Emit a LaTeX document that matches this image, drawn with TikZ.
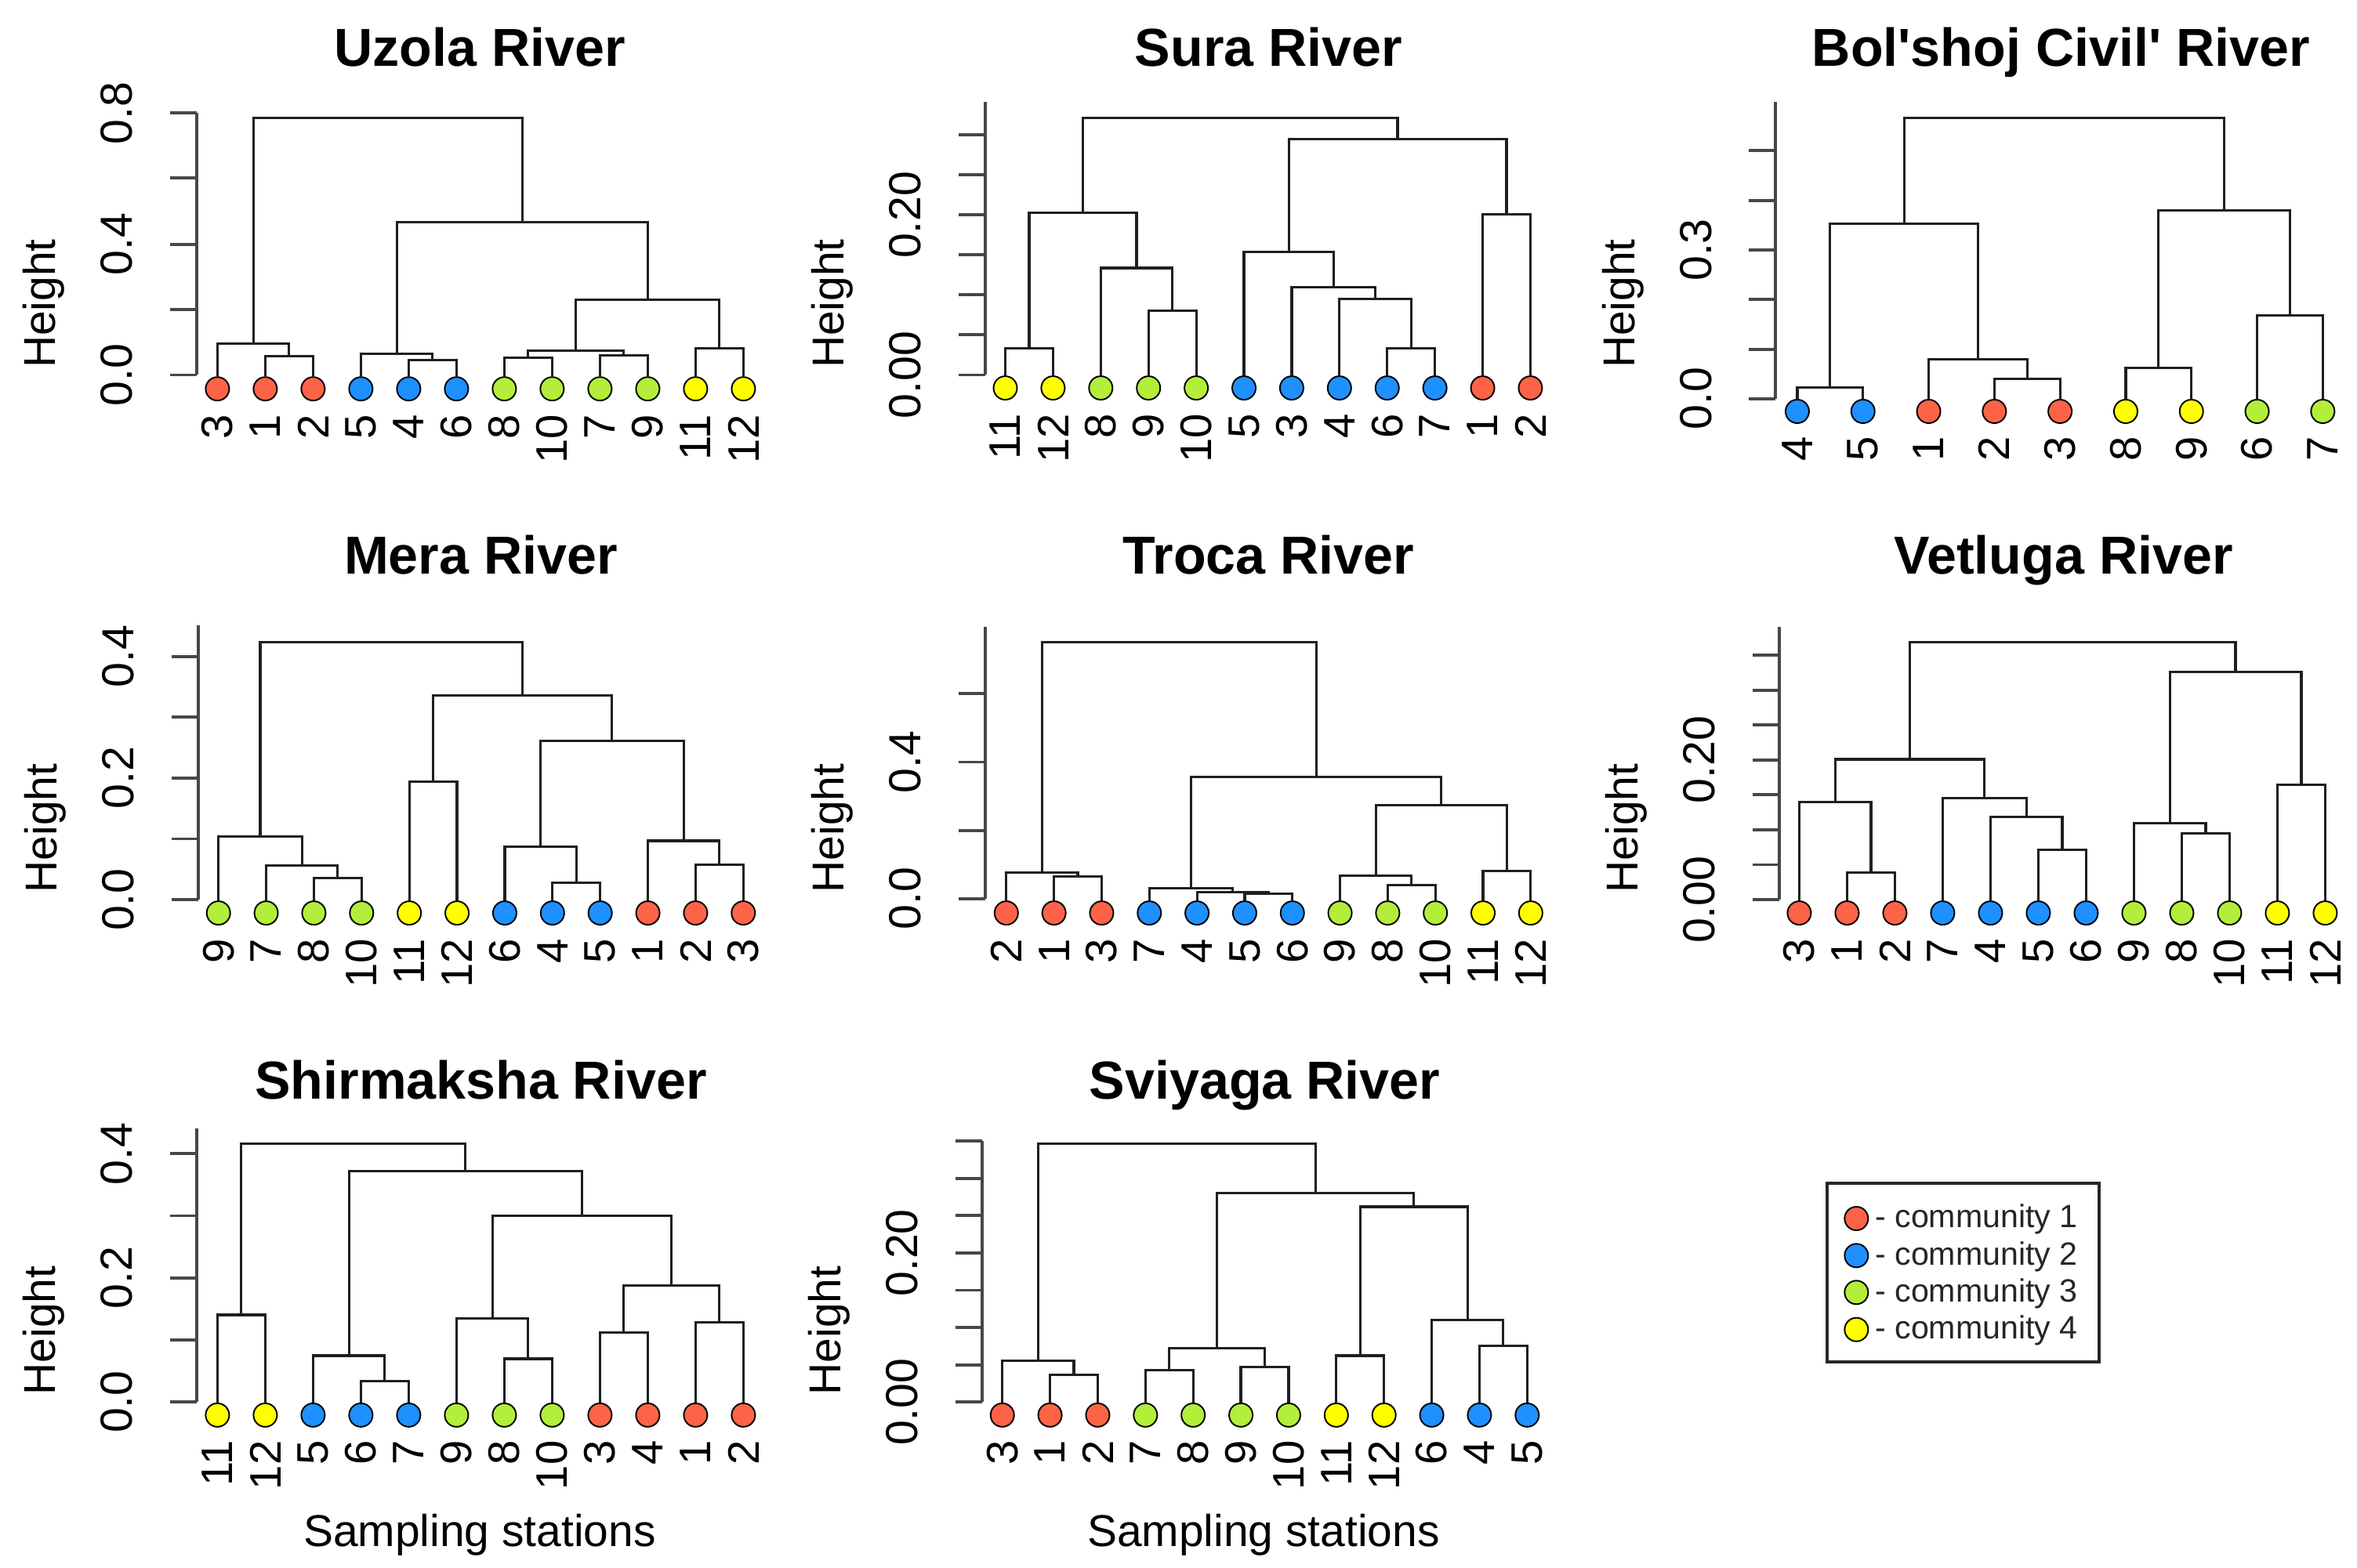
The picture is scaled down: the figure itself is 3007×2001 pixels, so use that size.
\documentclass[tikz,border=0pt]{standalone}
\usepackage{fontspec}
\setmainfont{Liberation Sans}
\newfontfamily\tfont{Liberation Sans}
\usetikzlibrary{calc}
\definecolor{cR}{HTML}{FF6347}
\definecolor{cB}{HTML}{1E90FF}
\definecolor{cG}{HTML}{B3EE3A}
\definecolor{cY}{HTML}{FFFF00}
\newcommand\mrg[4]{%
  \coordinate (tmpm) at ($(#2)!0.5!(#3)$);
  \coordinate (tmph) at (0,#4);
  \coordinate (#1) at (tmpm |- tmph);
  \draw[dline] (#2) |- (#1) -| (#3);}
\newcommand\leaves[5]{%
  \foreach \lb/\cl [count=\i from 0] in {#5} {
    \node[leaf, fill=\cl] (#1\lb) at ({#2+\i*#3}, #4) {};
    \node[lnum, rotate=90, anchor=east] (#1\lb-l) at ({#2+\i*#3}, #4+32) {\lb};
  }}
\newcommand\yaxis[4]{%
  \draw[axisl] (#1,#2) -- (#1,#3);
  \foreach \t in {#4} \draw[axisl] (#1,\t) -- (#1-34,\t);}
\begin{document}
\begin{tikzpicture}[x=0.01cm,y=-0.01cm,
  leaf/.style={circle, draw=black, line width=0.55pt, minimum size=0.3cm, inner sep=0pt},
  num/.style={font=\fontsize{16.3}{16.3}\selectfont, inner sep=0pt},
  lnum/.style={font=\fontsize{16}{16}\selectfont, inner sep=0pt},
  lab/.style={font=\fontsize{16.2}{16.2}\selectfont, inner sep=0pt},
  ttl/.style={font=\tfont\bfseries\fontsize{19.4}{19.4}\selectfont, inner sep=0pt, anchor=base},
  leg/.style={font=\fontsize{11.7}{11.7}\selectfont, inner sep=0pt, anchor=base west, text=black!85},
  dline/.style={line width=0.9pt, black!88},
  axisl/.style={line width=1.1pt, black!72}]
\fill[white] (0,0) rectangle (3007,2001);
\useasboundingbox (0,0) rectangle (3007,2001);

% ---------- Uzola ----------
\yaxis{250.6}{144.3}{478.5}{144.3,227.4,311.6,394.6,478.5}
\node[num,rotate=90] (Ut0) at (149,478.5) {0.0};
\node[num,rotate=90] (Ut4) at (149,311.6) {0.4};
\node[num,rotate=90] (Ut8) at (149,144.3) {0.8};
\node[lab,rotate=90] (Uh) at (55.6,387.5) {Height};
\node[ttl] (Utt) at (612,85) {Uzola River};
\leaves{U}{277.4}{61.0}{496.2}{3/cR,1/cR,2/cR,5/cB,4/cB,6/cB,8/cG,10/cG,7/cG,9/cG,11/cY,12/cY}
\mrg{Ua}{U1}{U2}{454.7}
\mrg{Ub}{U3}{Ua}{438.9}
\mrg{Uc}{U4}{U6}{459.5}
\mrg{Ud}{U5}{Uc}{451.6}
\mrg{Ue}{U8}{U10}{456.7}
\mrg{Uf}{U7}{U9}{453.5}
\mrg{Ug}{Ue}{Uf}{447.6}
\mrg{Uh2}{U11}{U12}{444.4}
\mrg{Ui}{Ug}{Uh2}{382.8}
\mrg{Uj}{Ud}{Ui}{283.5}
\mrg{Ur}{Ub}{Uj}{150.3}

% ---------- Sura ----------
\yaxis{1257}{130.5}{478.5}{478.5,427.4,376.3,325.3,274.2,223.1,172.0}
\node[num,rotate=90] (St0) at (1155,478.5) {0.00};
\node[num,rotate=90] (St2) at (1155,274.2) {0.20};
\node[lab,rotate=90] (Sh) at (1062,387.5) {Height};
\node[ttl] (Stt) at (1618.6,85) {Sura River};
\leaves{S}{1282.5}{60.9}{495.1}{11/cY,12/cY,8/cG,9/cG,10/cG,5/cB,3/cB,4/cB,6/cB,7/cB,1/cR,2/cR}
\mrg{Sa}{S11}{S12}{444.8}
\mrg{Sb}{S9}{S10}{396.2}
\mrg{Sc}{S8}{Sb}{342}
\mrg{Sd}{Sa}{Sc}{271.6}
\mrg{Se}{S6}{S7}{444.8}
\mrg{Sf}{S4}{Se}{381.6}
\mrg{Sg}{S3}{Sf}{366.9}
\mrg{Sh2}{S5}{Sg}{321.5}
\mrg{Si}{S1}{S2}{273.6}
\mrg{Sj}{Sh2}{Si}{177.9}
\mrg{Sr}{Sd}{Sj}{150.3}

% ---------- Bol'shoj Civil' ----------
\yaxis{2265.3}{130.5}{508.9}{508.9,445.6,382.3,319,255.7,192.4}
\node[num,rotate=90] (Bt0) at (2163.3,508.9) {0.0};
\node[num,rotate=90] (Bt3) at (2163.3,319) {0.3};
\node[lab,rotate=90] (Bh) at (2070.3,387.5) {Height};
\node[ttl] (Btt) at (2629.4,85) {Bol'shoj Civil' River};
\leaves{B}{2292.9}{83.8}{525}{4/cB,5/cB,1/cR,2/cR,3/cR,8/cY,9/cY,6/cG,7/cG}
\mrg{Ba}{B4}{B5}{494.3}
\mrg{Bb}{B2}{B3}{483.2}
\mrg{Bc}{B1}{Bb}{458.7}
\mrg{Bd}{Ba}{Bc}{285.5}
\mrg{Be}{B8}{B9}{469.4}
\mrg{Bf}{B6}{B7}{402.5}
\mrg{Bg}{Be}{Bf}{268.9}
\mrg{Br}{Bd}{Bg}{150.3}

% ---------- Mera ----------
\yaxis{253.2}{798.2}{1148.1}{1148.1,1070.5,992.9,915.3,837.7}
\node[num,rotate=90] (Mt0) at (151.2,1148.1) {0.0};
\node[num,rotate=90] (Mt2) at (151.2,992.9) {0.2};
\node[num,rotate=90] (Mt4) at (151.2,837.7) {0.4};
\node[lab,rotate=90] (Mh) at (58.2,1057) {Height};
\node[ttl] (Mtt) at (613.5,732.9) {Mera River};
\leaves{M}{278.7}{60.87}{1165.1}{9/cG,7/cG,8/cG,10/cG,11/cY,12/cY,6/cB,4/cB,5/cB,1/cR,2/cR,3/cR}
\mrg{Ma}{M8}{M10}{1120.4}
\mrg{Mb}{M7}{Ma}{1104.6}
\mrg{Mc}{M9}{Mb}{1067.8}
\mrg{Md}{M11}{M12}{997.1}
\mrg{Me}{M4}{M5}{1126.4}
\mrg{Mf}{M6}{Me}{1080.9}
\mrg{Mg}{M2}{M3}{1103.4}
\mrg{Mh2}{M1}{Mg}{1073}
\mrg{Mi}{Mf}{Mh2}{945.7}
\mrg{Mj}{Md}{Mi}{887.1}
\mrg{Mr}{Mc}{Mj}{819.9}

% ---------- Troca ----------
\yaxis{1257}{800.1}{1146.9}{1146.9,1059.7,972.5,885.3}
\node[num,rotate=90] (Tt0) at (1155,1146.9) {0.0};
\node[num,rotate=90] (Tt4) at (1155,972.5) {0.4};
\node[lab,rotate=90] (Th) at (1062,1057) {Height};
\node[ttl] (Ttt) at (1618.6,732.9) {Troca River};
\leaves{T}{1283.8}{60.82}{1165.1}{2/cR,1/cR,3/cR,7/cB,4/cB,5/cB,6/cB,9/cG,8/cG,10/cG,11/cY,12/cY}
\mrg{Ta}{T1}{T3}{1118.4}
\mrg{Tb}{T2}{Ta}{1113.7}
\mrg{Tc}{T5}{T6}{1140.2}
\mrg{Td}{T4}{Tc}{1138.2}
\mrg{Te}{T7}{Td}{1133.5}
\mrg{Tf}{T8}{T10}{1129.5}
\mrg{Tg}{T9}{Tf}{1117.6}
\mrg{Th2}{T11}{T12}{1111.3}
\mrg{Ti}{Tg}{Th2}{1027.5}
\mrg{Tj}{Te}{Ti}{991.9}
\mrg{Tr}{Tb}{Tj}{819.9}

% ---------- Vetluga ----------
\yaxis{2269.7}{800.1}{1148.1}{1148.1,1103.5,1059,1014.4,969.8,925.3,880.7,836.1}
\node[num,rotate=90] (Vt0) at (2167.7,1148.1) {0.00};
\node[num,rotate=90] (Vt2) at (2167.7,969.8) {0.20};
\node[lab,rotate=90] (Vh) at (2074.7,1057) {Height};
\node[ttl] (Vtt) at (2632.6,732.9) {Vetluga River};
\leaves{V}{2295.4}{61.0}{1165.1}{3/cR,1/cR,2/cR,7/cB,4/cB,5/cB,6/cB,9/cG,8/cG,10/cG,11/cY,12/cY}
\mrg{Va}{V1}{V2}{1113.3}
\mrg{Vb}{V3}{Va}{1023.6}
\mrg{Vc}{V5}{V6}{1084.8}
\mrg{Vd}{V4}{Vc}{1042.5}
\mrg{Ve}{V7}{Vd}{1018.4}
\mrg{Vf}{Vb}{Ve}{969}
\mrg{Vg}{V8}{V10}{1063.1}
\mrg{Vh2}{V9}{Vg}{1050.4}
\mrg{Vi}{V11}{V12}{1001.8}
\mrg{Vj}{Vh2}{Vi}{857.5}
\mrg{Vr}{Vf}{Vj}{819.9}

% ---------- Shirmaksha ----------
\yaxis{250.6}{1440}{1789.1}{1789.1,1709.9,1630.7,1551.5,1472.3}
\node[num,rotate=90] (Ht0) at (149,1789.1) {0.0};
\node[num,rotate=90] (Ht2) at (149,1630.7) {0.2};
\node[num,rotate=90] (Ht4) at (149,1472.3) {0.4};
\node[lab,rotate=90] (Hh) at (55.6,1697.8) {Height};
\node[ttl] (Htt) at (613.5,1402.5) {Shirmaksha River};
\node[lab,anchor=base] (Hs) at (612,1973.3) {Sampling stations};
\leaves{H}{277.4}{61.0}{1805.8}{11/cY,12/cY,5/cB,6/cB,7/cB,9/cG,8/cG,10/cG,3/cR,4/cR,1/cR,2/cR}
\mrg{Ha}{H11}{H12}{1678}
\mrg{Hb}{H6}{H7}{1762.6}
\mrg{Hc}{H5}{Hb}{1730}
\mrg{Hd}{H8}{H10}{1734}
\mrg{He}{H9}{Hd}{1682.4}
\mrg{Hf}{H3}{H4}{1700.9}
\mrg{Hg}{H1}{H2}{1687.7}
\mrg{Hh2}{Hf}{Hg}{1640.5}
\mrg{Hi}{He}{Hh2}{1551.1}
\mrg{Hj}{Hc}{Hi}{1494.2}
\mrg{Hr}{Ha}{Hj}{1459.8}

% ---------- Sviyaga ----------
\yaxis{1253.2}{1456.3}{1789.1}{1789.1,1741.6,1694.0,1646.5,1598.9,1551.4,1503.9,1456.3}
\node[num,rotate=90] (Yt0) at (1151.2,1789.1) {0.00};
\node[num,rotate=90] (Yt2) at (1151.2,1598.9) {0.20};
\node[lab,rotate=90] (Yh) at (1058.2,1697.8) {Height};
\node[ttl] (Ytt) at (1613.5,1402.5) {Sviyaga River};
\node[lab,anchor=base] (Ys) at (1612,1973.3) {Sampling stations};
\leaves{Y}{1278.7}{60.87}{1805.8}{3/cR,1/cR,2/cR,7/cG,8/cG,9/cG,10/cG,11/cY,12/cY,6/cB,4/cB,5/cB}
\mrg{Ya}{Y1}{Y2}{1754.2}
\mrg{Yb}{Y3}{Ya}{1736.2}
\mrg{Yc}{Y7}{Y8}{1748.5}
\mrg{Yd}{Y9}{Y10}{1744.1}
\mrg{Ye}{Yc}{Yd}{1720.8}
\mrg{Yf}{Y11}{Y12}{1730}
\mrg{Yg}{Y4}{Y5}{1717.7}
\mrg{Yh2}{Y6}{Yg}{1684.6}
\mrg{Yi}{Yf}{Yh2}{1540}
\mrg{Yj}{Ye}{Yi}{1522.9}
\mrg{Yr}{Yb}{Yj}{1459.8}

% ---------- Legend ----------
\draw[line width=1.1pt, black!85] (2331,1510) rectangle (2678.3,1738.3);
\node[leaf, fill=cR] (L1) at (2368.3,1555) {};
\node[leaf, fill=cB] (L2) at (2368.3,1602.3) {};
\node[leaf, fill=cG] (L3) at (2368.3,1649.3) {};
\node[leaf, fill=cY] (L4) at (2368.3,1696.7) {};
\node[leg] (L1t) at (2391.7,1566.7) {- community 1};
\node[leg] (L2t) at (2391.7,1614) {- community 2};
\node[leg] (L3t) at (2391.7,1661) {- community 3};
\node[leg] (L4t) at (2391.7,1708.4) {- community 4};
\end{tikzpicture}
\end{document}
